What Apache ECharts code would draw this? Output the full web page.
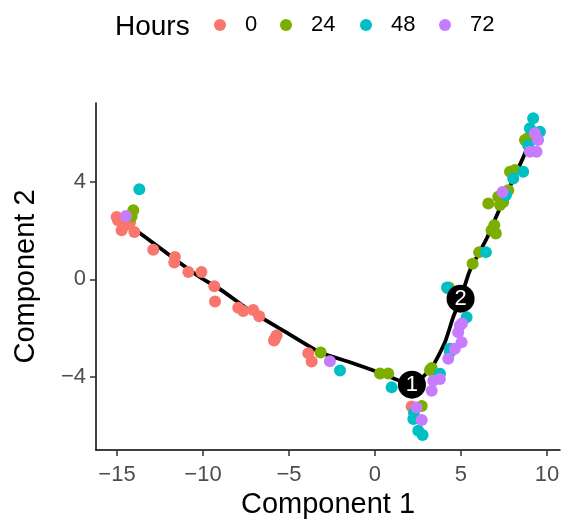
<!DOCTYPE html>
<html><head><meta charset="utf-8">
<script src="https://cdn.jsdelivr.net/npm/echarts@6/dist/echarts.min.js"></script>
<style>html,body{margin:0;padding:0;background:#fff}#c{width:562px;height:519px}</style>
</head><body><div id="c"></div>
<script>
const FONT = "'Liberation Sans', Arial, Helvetica, sans-serif";
const hours = ['0', '24', '48', '72'];
const colors = ['#F8766D', '#7CAE00', '#00BFC4', '#C77CFF'];
const xTicks = [-15, -10, -5, 0, 5, 10];
const yTicks = [-4, 0, 4];

const pts0 = [[-15.02,2.56],[-14.73,2.02],[-13.99,1.95],[-14.53,2.22],[-14.24,2.35],[-14.94,2.43],[-12.89,1.22],[-11.63,0.92],[-11.67,0.69],[-10.85,0.30],[-10.09,0.30],[-9.34,-0.28],[-9.30,-0.91],[-7.95,-1.16],[-7.66,-1.30],[-7.08,-1.25],[-6.73,-1.51],[-5.72,-2.30],[-5.87,-2.51],[-5.81,-2.43],[-3.88,-3.03],[-3.68,-3.37],[2.13,-5.21],[4.24,-0.37]];
const pts24 = [[-14.05,2.84],[-14.15,2.59],[-3.16,-3.00],[0.29,-3.86],[0.77,-3.86],[3.20,-3.72],[2.72,-5.19],[3.30,-3.63],[4.30,-0.33],[5.68,0.64],[6.06,1.12],[6.78,2.02],[7.03,1.88],[6.94,2.22],[6.59,3.12],[7.27,3.05],[7.17,3.39],[7.46,3.18],[7.75,3.66],[7.85,4.42],[8.14,4.49],[8.72,5.72],[8.90,5.80]];
const pts48 = [[-13.70,3.70],[-2.03,-3.74],[0.97,-4.43],[3.68,-4.02],[2.23,-5.73],[2.52,-6.21],[2.77,-6.38],[2.27,-5.47],[5.33,-1.55],[4.36,-2.99],[6.45,1.12],[8.04,4.14],[8.62,4.42],[7.62,3.46],[8.91,5.51],[9.59,6.06],[9.01,6.20],[9.20,6.61],[4.19,-0.33],[4.36,-2.84],[3.78,-3.87]];
const pts72 = [[-14.48,2.60],[-2.62,-3.36],[3.39,-4.16],[3.78,-4.09],[3.30,-4.57],[2.42,-5.26],[2.72,-5.77],[4.94,-1.89],[4.84,-2.17],[5.04,-2.58],[4.65,-2.85],[4.26,-3.26],[7.42,3.59],[9.30,6.00],[9.49,5.72],[9.01,5.24],[9.40,5.24],[5.06,-1.81]];
const trajectory = [[-13.76,1.95],[-11.53,0.78],[-10.17,0.09],[-8.91,-0.45],[-7.27,-1.28],[-5.33,-2.10],[-3.20,-2.99],[-1.45,-3.40],[0.48,-3.88],[2.15,-4.32],[3.30,-3.61],[4.07,-2.58],[4.55,-1.55],[4.98,-0.79],[5.52,0.37],[6.49,1.67],[7.17,2.77],[8.72,5.17],[9.01,5.86]];
const branchNodes = [{name:'1', value:[2.15,-4.32]},{name:'2', value:[4.98,-0.79]}];
const groups = [pts0, pts24, pts48, pts72];
const legendLeft = [214, 280, 360, 439];

const minus = v => String(v).replace('-', '\u2212');
const chart = echarts.init(document.getElementById('c'), null, {renderer:'canvas'});
const series = [{
  type:'line', data: trajectory, showSymbol:false, symbol:'none', smooth:0.2,
  lineStyle:{color:'#000', width:3.8}, z:1, silent:true
}];
groups.forEach((g,i)=>series.push({
  type:'scatter', name: hours[i], data: g, symbolSize: 12,
  itemStyle:{color: colors[i], opacity:1}, z:2
}));
series.push({
  type:'scatter', data: branchNodes, symbolSize: 28, z:5,
  itemStyle:{color:'#000', opacity:1},
  label:{show:true, position:'inside', formatter: p=>p.name, color:'#fff', fontSize:22, fontFamily:FONT}
});
chart.setOption({
  animation:false,
  backgroundColor:'#fff',
  grid:{left:96, right:2, top:103, bottom:69, containLabel:false, outerBoundsMode:'none'},
  graphic:[{type:'text', x:115, y:27, style:{text:'Hours', font:'28px ' + FONT, fill:'#000', verticalAlign:'middle', textVerticalAlign:'middle'}}],
  legend: hours.map((h,i)=>({
    data:[h], left: legendLeft[i], top:14, padding:0, itemWidth:12, itemHeight:12,
    icon:'circle', textStyle:{fontSize:22, fontFamily:FONT, color:'#000', padding:[0,0,0,14]}
  })),
  xAxis:{
    type:'value', min:-16.22, max:10.76,
    name:'Component 1', nameLocation:'middle', nameGap:40,
    nameTextStyle:{fontSize:29, fontFamily:FONT, color:'#000'},
    axisLine:{show:true, onZero:false, lineStyle:{color:'#000', width:1.5}},
    axisTick:{show:true, length:6, customValues:xTicks, lineStyle:{color:'#333', width:1.5}},
    axisLabel:{customValues:xTicks, formatter:minus, fontSize:22, fontFamily:FONT, color:'#4D4D4D', margin:14},
    splitLine:{show:false}
  },
  yAxis:{
    type:'value', min:-7.0, max:7.24,
    name:'Component 2', nameLocation:'middle', nameGap:56, nameRotate:90,
    nameTextStyle:{fontSize:29, fontFamily:FONT, color:'#000'},
    axisLine:{show:true, onZero:false, lineStyle:{color:'#000', width:1.5}},
    axisTick:{show:true, length:6, customValues:yTicks, lineStyle:{color:'#333', width:1.5}},
    axisLabel:{customValues:yTicks, formatter:minus, fontSize:22, fontFamily:FONT, color:'#4D4D4D', margin:10},
    splitLine:{show:false}
  },
  series: series
});
</script></body></html>
